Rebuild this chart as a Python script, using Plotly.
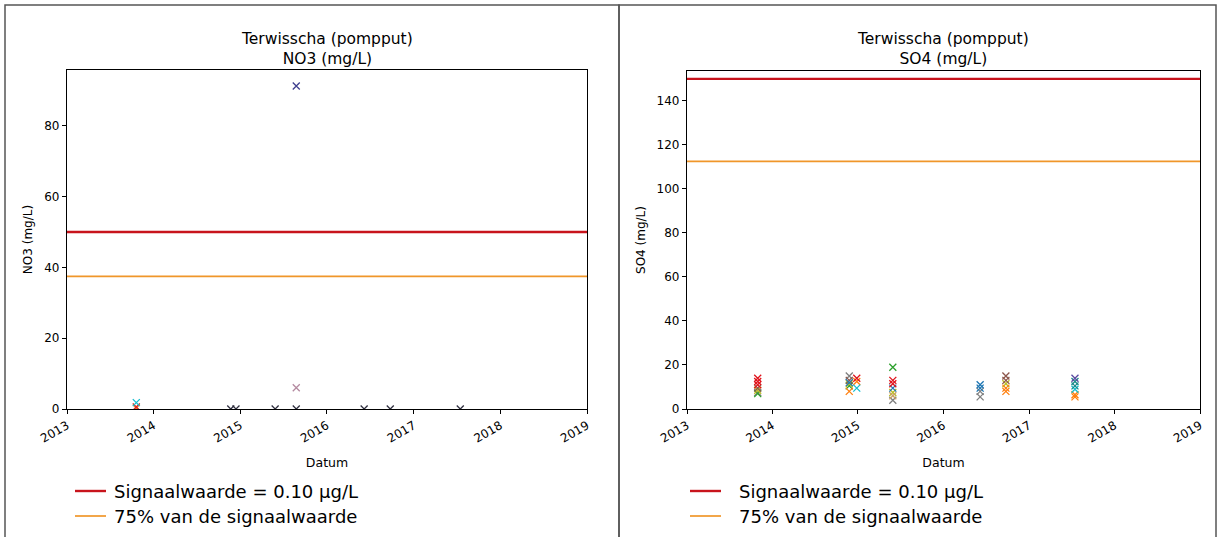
import plotly.graph_objects as go

# ---- data -----------------------------------------------------------------
x_limits = ["2013-01-01", "2019-01-01"]
year_ticks = ["2013-01-01", "2014-01-01", "2015-01-01", "2016-01-01",
              "2017-01-01", "2018-01-01", "2019-01-01"]
year_labels = ["2013", "2014", "2015", "2016", "2017", "2018", "2019"]

no3_signal = 50.0
so4_signal = 150.0

legend_labels = ["Signaalwaarde = 0.10 µg/L", "75% van de signaalwaarde"]

# NO3 measurements per filter (date, value)
no3_f1_dates = ["2013-10-20"]
no3_f1_vals = [1.8]
no3_f2_dates = ["2013-10-20"]
no3_f2_vals = [0.6]
no3_f3_dates = ["2013-10-20"]
no3_f3_vals = [0.3]
no3_f4_dates = ["2015-08-25"]
no3_f4_vals = [91.3]
no3_f5_dates = ["2015-08-25"]
no3_f5_vals = [6.0]
no3_f6_dates = ["2014-11-22", "2014-12-14", "2015-05-28", "2015-08-25",
                "2016-06-06", "2016-09-24", "2017-07-16"]
no3_f6_vals = [0.0, 0.0, 0.0, 0.0, 0.0, 0.0, 0.0]

# SO4 measurements per filter (date, value)
so4_red_dates = ["2013-10-30", "2013-10-30", "2013-10-30", "2014-12-27",
                 "2015-05-30", "2015-05-30"]
so4_red_vals = [14.0, 12.5, 11.0, 14.0, 13.0, 11.5]
so4_brown_dates = ["2013-10-30", "2014-11-25", "2016-09-24", "2016-09-24"]
so4_brown_vals = [9.5, 13.0, 15.0, 13.0]
so4_olive_dates = ["2013-10-30", "2014-11-25", "2015-05-30", "2016-09-24"]
so4_olive_vals = [8.5, 11.5, 7.5, 11.5]
so4_gray_dates = ["2013-10-30", "2014-11-25", "2015-05-30", "2016-06-06",
                  "2016-06-06"]
so4_gray_vals = [7.5, 15.0, 4.0, 8.0, 5.5]
so4_green_dates = ["2013-10-30", "2014-11-25", "2015-05-30"]
so4_green_vals = [7.0, 10.5, 19.0]
so4_blue_dates = ["2014-11-25", "2015-05-30", "2016-06-06", "2016-06-06"]
so4_blue_vals = [12.0, 9.5, 11.0, 9.5]
so4_orange_dates = ["2014-11-25", "2014-12-27", "2016-09-24", "2016-09-24",
                    "2017-07-16", "2017-07-16"]
so4_orange_vals = [8.0, 12.5, 9.5, 8.0, 6.5, 5.5]
so4_cyan_dates = ["2014-12-27", "2017-07-16"]
so4_cyan_vals = [9.5, 9.0]
so4_tan_dates = ["2015-05-30"]
so4_tan_vals = [6.0]
so4_purple_dates = ["2017-07-16"]
so4_purple_vals = [14.0]
so4_teal_dates = ["2017-07-16", "2017-07-16"]
so4_teal_vals = [12.5, 10.5]

# ---- styling --------------------------------------------------------------
W, H = 1219, 537
FONT = "DejaVu Sans"
RED = "#c8141c"
ORANGE = "#f0962a"
LINE_STYLES = [dict(color=RED, width=2.4), dict(color=ORANGE, width=1.7)]


def px(x):
    return x / W


def py(y):
    return 1 - y / H


fig = go.Figure()


def add_points(dates, vals, color, xa, ya):
    fig.add_trace(go.Scatter(
        x=dates, y=vals, mode="markers", xaxis=xa, yaxis=ya,
        showlegend=False,
        marker=dict(symbol="x-thin", size=7,
                    line=dict(width=1.3, color=color), color=color)))


def add_limits(level, xa, ya):
    for lvl, style, label in zip([level, 0.75 * level], LINE_STYLES,
                                 legend_labels):
        fig.add_trace(go.Scatter(
            x=x_limits, y=[lvl, lvl], mode="lines", xaxis=xa, yaxis=ya,
            line=style, name=label, showlegend=False))


# left panel: NO3
add_limits(no3_signal, "x", "y")
add_points(no3_f6_dates, no3_f6_vals, "#2e2e3e", "x", "y")
add_points(no3_f3_dates, no3_f3_vals, "#ff7f0e", "x", "y")
add_points(no3_f2_dates, no3_f2_vals, "#d62728", "x", "y")
add_points(no3_f1_dates, no3_f1_vals, "#17becf", "x", "y")
add_points(no3_f5_dates, no3_f5_vals, "#b48aa0", "x", "y")
add_points(no3_f4_dates, no3_f4_vals, "#3f3f8f", "x", "y")

# right panel: SO4
add_limits(so4_signal, "x2", "y2")
for d, v, c in [
    (so4_gray_dates, so4_gray_vals, "#7f7f7f"),
    (so4_green_dates, so4_green_vals, "#2ca02c"),
    (so4_olive_dates, so4_olive_vals, "#bcbd22"),
    (so4_tan_dates, so4_tan_vals, "#c8a064"),
    (so4_brown_dates, so4_brown_vals, "#8c564b"),
    (so4_blue_dates, so4_blue_vals, "#1f77b4"),
    (so4_orange_dates, so4_orange_vals, "#ff7f0e"),
    (so4_cyan_dates, so4_cyan_vals, "#17becf"),
    (so4_teal_dates, so4_teal_vals, "#1a8a8a"),
    (so4_purple_dates, so4_purple_vals, "#5a4aa0"),
    (so4_red_dates, so4_red_vals, "#e0141c"),
]:
    add_points(d, v, c, "x2", "y2")

axis_common = dict(
    showline=True, linecolor="black", linewidth=1.3, mirror=True,
    ticks="outside", ticklen=4, tickwidth=1, tickcolor="black",
    showgrid=False, zeroline=False, automargin=False,
    tickfont=dict(family=FONT, size=12, color="black"),
)
xaxis_common = dict(
    axis_common, type="date", range=x_limits, tickvals=year_ticks,
    ticktext=year_labels, tickangle=-30,
    title=dict(text="Datum", font=dict(family=FONT, size=12.5, color="black"),
               standoff=13),
)

# titles above each panel
annotations = []
for cx, sub in [(327, "NO3 (mg/L)"), (943, "SO4 (mg/L)")]:
    annotations.append(dict(
        text="Terwisscha (pompput)<br>" + sub, xref="paper", yref="paper",
        x=px(cx), y=py(28), xanchor="center", yanchor="top",
        showarrow=False, font=dict(family=FONT, size=15.5, color="black")))

# legend keys below each panel
shapes = []
for line_x0, text_x in [(75, 112), (690, 737)]:
    for row_y, style, label in zip([491, 516], LINE_STYLES, legend_labels):
        shapes.append(dict(type="line", xref="paper", yref="paper",
                           x0=px(line_x0), x1=px(line_x0 + 31),
                           y0=py(row_y), y1=py(row_y), line=style))
        annotations.append(dict(
            text=label, xref="paper", yref="paper", x=px(text_x),
            y=py(row_y), xanchor="left", yanchor="middle", showarrow=False,
            font=dict(family=FONT, size=18, color="black")))

# panel frames
shapes += [
    dict(type="rect", xref="paper", yref="paper", x0=px(5), x1=px(619),
         y0=py(545), y1=py(5), line=dict(color="#555", width=1.5)),
    dict(type="rect", xref="paper", yref="paper", x0=px(619), x1=px(1216),
         y0=py(545), y1=py(5), line=dict(color="#555", width=1.5)),
]

fig.update_layout(
    width=W, height=H,
    margin=dict(l=0, r=0, t=0, b=0, autoexpand=False),
    paper_bgcolor="white", plot_bgcolor="white",
    font=dict(family=FONT, color="black"),
    showlegend=False,
    xaxis=dict(xaxis_common, domain=[px(67), px(587)], anchor="y"),
    yaxis=dict(axis_common, domain=[py(409), py(70)], anchor="x",
               range=[0, 95.8], tickvals=[0, 20, 40, 60, 80],
               title=dict(text="NO3 (mg/L)", standoff=8,
                          font=dict(family=FONT, size=12, color="black"))),
    xaxis2=dict(xaxis_common, domain=[px(687), px(1200)], anchor="y2"),
    yaxis2=dict(axis_common, domain=[py(409), py(71)], anchor="x2",
                range=[0, 153.6],
                tickvals=[0, 20, 40, 60, 80, 100, 120, 140],
                title=dict(text="SO4 (mg/L)", standoff=8,
                           font=dict(family=FONT, size=12, color="black"))),
    annotations=annotations,
    shapes=shapes,
)

fig.write_html("out.html")
